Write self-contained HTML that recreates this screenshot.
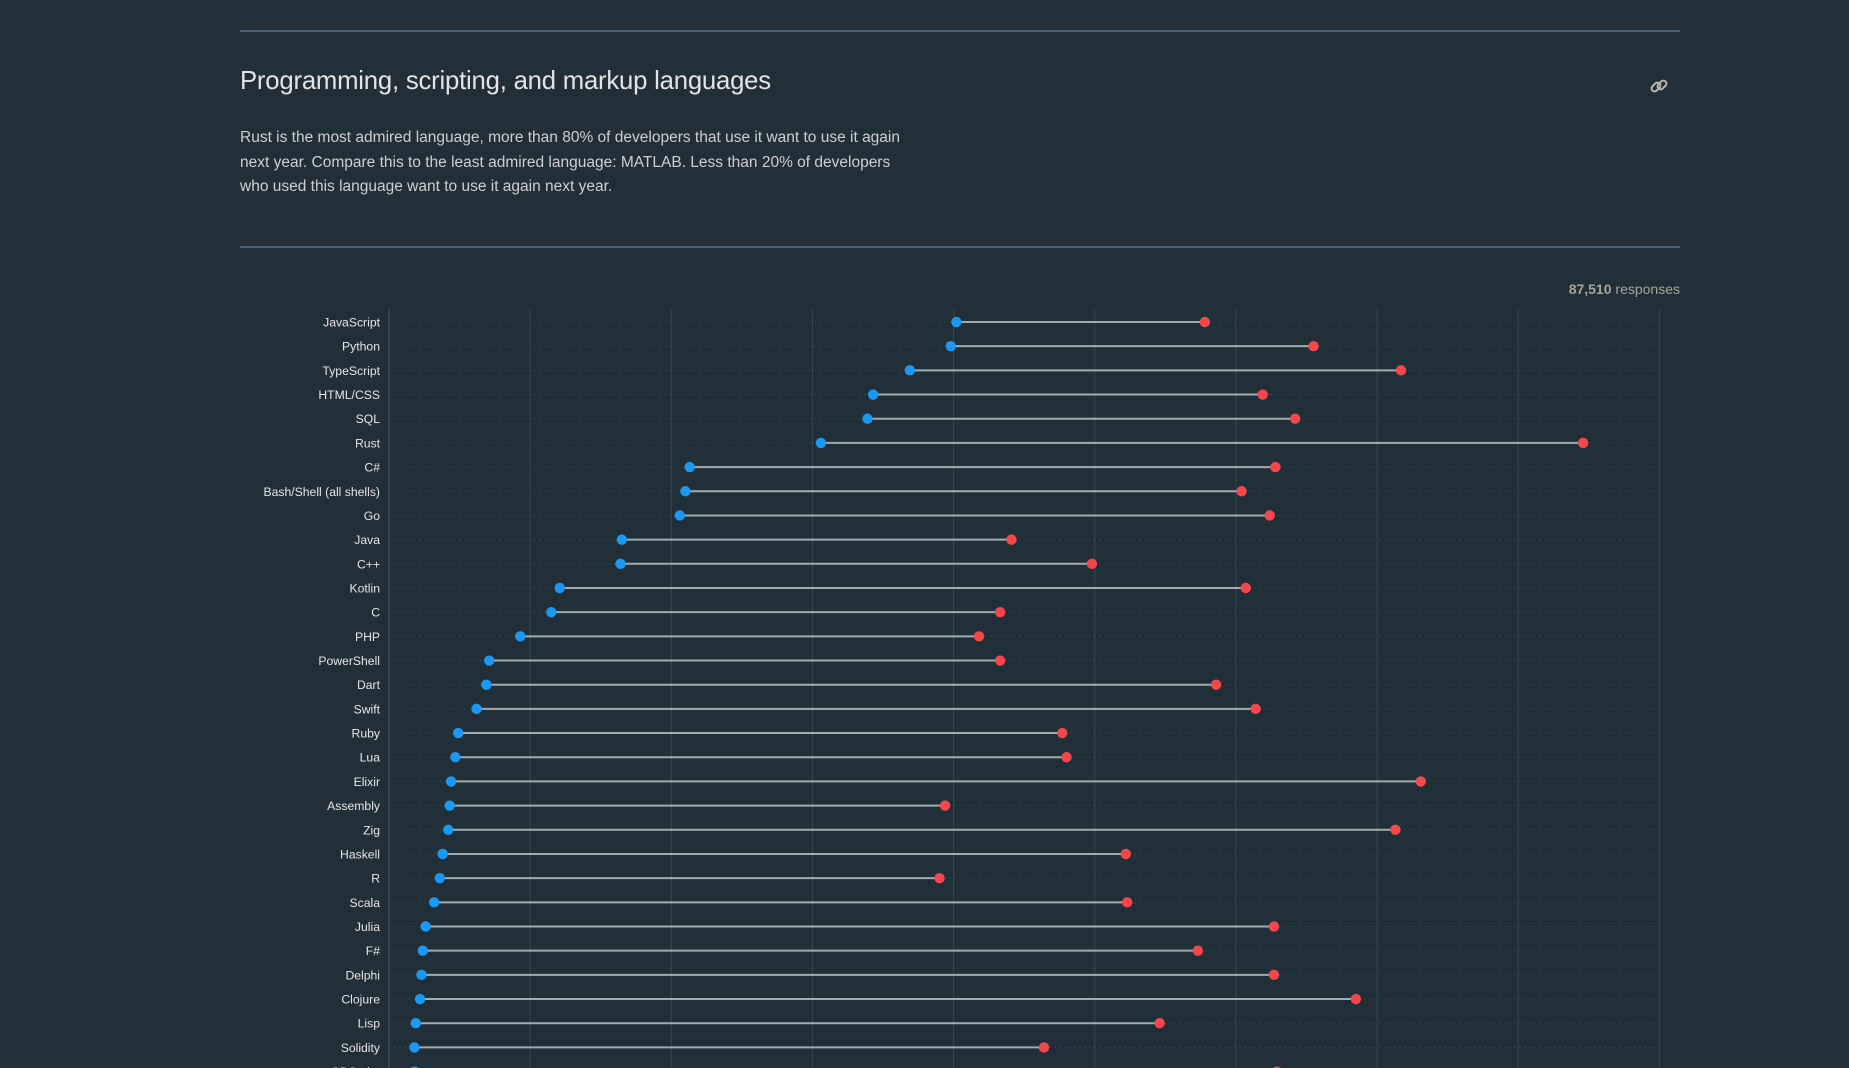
<!DOCTYPE html>
<html><head><meta charset="utf-8"><style>
html,body{margin:0;padding:0;width:1849px;height:1068px;overflow:hidden;background:#212f38;font-family:"Liberation Sans",sans-serif;}
.abs{position:absolute;}
</style></head><body>
<div class="abs" style="left:240px;top:30px;width:1440px;height:2px;background:#4a6176"></div>
<div class="abs" style="left:240px;top:67px;font-size:25.7px;color:#e4e4e4;letter-spacing:-0.2px">Programming, scripting, and markup languages</div>
<svg class="abs" style="left:1648px;top:75px" width="22" height="22" viewBox="0 0 22 22"><g fill="none" stroke="#bdb8ae" stroke-width="2"><rect x="3" y="9" width="10" height="6" rx="3" transform="rotate(-45 8 12)"/><rect x="9" y="7" width="10" height="6" rx="3" transform="rotate(-45 14 10)"/></g></svg>
<div class="abs" style="left:240px;top:126px;font-size:15.5px;line-height:24.5px;color:#cfcfcf">Rust is the most admired language, more than 80% of developers that use it want to use it again<br>next year. Compare this to the least admired language: MATLAB. Less than 20% of developers<br>who used this language want to use it again next year.</div>
<div class="abs" style="left:240px;top:246px;width:1440px;height:2px;background:#4a6176"></div>
<div class="abs" style="right:169px;top:281px;font-size:14px;color:#a9a49b"><b>87,510</b> responses</div>
<svg id="chart" class="abs" style="left:0;top:0" width="1849" height="1068"></svg>
<script>
const languages=["JavaScript","Python","TypeScript","HTML/CSS","SQL","Rust","C#","Bash/Shell (all shells)","Go","Java","C++","Kotlin","C","PHP","PowerShell","Dart","Swift","Ruby","Lua","Elixir","Assembly","Zig","Haskell","R","Scala","Julia","F#","Delphi","Clojure","Lisp","Solidity","GDScript"];
const desired=[40.2,39.8,36.9,34.3,33.9,30.6,21.3,21.0,20.6,16.5,16.4,12.1,11.5,9.3,7.1,6.9,6.2,4.9,4.7,4.4,4.3,4.2,3.8,3.6,3.2,2.6,2.4,2.3,2.2,1.9,1.8,1.8];
const admired=[57.8,65.5,71.7,61.9,64.2,84.6,62.8,60.4,62.4,44.1,49.8,60.7,43.3,41.8,43.3,58.6,61.4,47.7,48.0,73.1,39.4,71.3,52.2,39.0,52.3,62.7,57.3,62.7,68.5,54.6,46.4,62.9];
const gridValues=[0,10,20,30,40,50,60,70,80,90];
const NS="http://www.w3.org/2000/svg";
const svg=document.getElementById('chart');
const x0=389,pxPer=14.115,y0=322,rowH=24.18;
const xs=v=>x0+v*pxPer;
const ys=i=>y0+i*rowH;
function mk(t,a){const e=document.createElementNS(NS,t);for(const k in a)e.setAttribute(k,a[k]);svg.appendChild(e);return e;}
gridValues.forEach((g,i)=>{
  const l=mk('line',{x1:xs(g),x2:xs(g),y1:309,y2:1068,stroke:i==0?'#4a5a63':'#36464f','stroke-width':1});
  
  
});
languages.forEach((name,i)=>{
  const y=ys(i);
  const g=mk('line',{x1:x0,x2:xs(90),y1:y,y2:y,stroke:'#34444d','stroke-width':1,'stroke-dasharray':'2 3'});
  
  
  const t=mk('text',{x:380,y:y+4.5,'text-anchor':'end','font-size':'12.2','fill':'#e6e6e6','font-family':'Liberation Sans, sans-serif'});
  t.textContent=name;
  
  
  const c=mk('line',{x1:xs(desired[i]),x2:xs(admired[i]),y1:y,y2:y,stroke:'#a3abb0','stroke-width':2});
  
  
  const b=mk('circle',{cx:xs(desired[i]),cy:y,r:5.2,fill:'#1b98f2'});
  
  
  const r=mk('circle',{cx:xs(admired[i]),cy:y,r:5.2,fill:'#f5474b'});
  
  
});
</script>
</body></html>
